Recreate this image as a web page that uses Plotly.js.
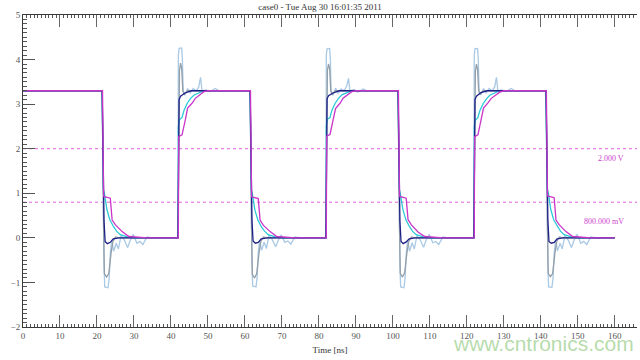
<!DOCTYPE html>
<html>
<head>
<meta charset="utf-8">
<script src="https://cdn.plot.ly/plotly-3.0.1.min.js"></script>
<style>html,body{margin:0;padding:0;background:#fff;}#chart{width:640px;height:360px;}</style>
</head>
<body>
<div id="chart"></div>
<script>
const titleText = 'case0 - Tue Aug 30 16:01:35 2011';
const xTitle = 'Time [ns]';
const thresholds = [2.0, 0.8];
const thresholdLabels = ['2.000 V', '800.000 mV'];
const watermark = 'www.cntronics.com';

// light blue (strongest ringing)
const tLight = [0,
21.4,21.9,22.1,23.0,23.3,23.6,24.0,24.5,25.2,25.8,26.5,27.4,28.3,29.0,29.8,30.8,31.6,32.4,33.5,35.0,
41.9,42.0,42.2,42.9,43.1,43.3,43.8,44.5,45.2,46.0,46.8,47.5,48.0,48.4,49.5,50.5,52.0,53.0,
61.4,61.9,62.1,63.0,63.3,63.6,64.0,64.5,65.2,65.8,66.5,67.4,68.3,69.0,69.8,70.8,71.6,72.4,73.5,75.0,
81.9,82.0,82.2,82.9,83.1,83.3,83.8,84.5,85.2,86.0,86.8,87.5,88.0,88.4,89.5,90.5,92.0,93.0,
101.4,101.9,102.1,103.0,103.3,103.6,104.0,104.5,105.2,105.8,106.5,107.4,108.3,109.0,109.8,110.8,111.6,112.4,113.5,115.0,
121.9,122.0,122.2,122.9,123.1,123.3,123.8,124.5,125.2,126.0,126.8,127.5,128.0,128.4,129.5,130.5,132.0,133.0,
141.4,141.9,142.1,143.0,143.3,143.6,144.0,144.5,145.2,145.8,146.5,147.4,148.3,149.0,149.8,150.8,151.6,152.4,153.5,155.0,
160];
const vLight = [3.3,
3.3,-0.6,-1.1,-1.12,-0.9,-0.35,-0.05,-0.3,-0.12,-0.25,0.05,-0.05,-0.22,-0.05,0.08,-0.12,-0.08,-0.15,0.02,0,
0,4.1,4.25,4.26,4.0,3.3,3.2,3.35,3.25,3.35,3.3,3.38,3.6,3.3,3.32,3.28,3.35,3.3,
3.3,-0.6,-1.08,-1.1,-0.88,-0.33,-0.06,-0.28,-0.1,-0.24,0.06,-0.04,-0.2,-0.06,0.07,-0.1,-0.07,-0.14,0.02,0,
0,4.1,4.24,4.25,4.0,3.3,3.2,3.36,3.24,3.34,3.3,3.4,3.58,3.3,3.33,3.27,3.34,3.3,
3.3,-0.6,-1.1,-1.12,-0.9,-0.36,-0.05,-0.3,-0.11,-0.25,0.05,-0.05,-0.21,-0.05,0.08,-0.11,-0.08,-0.15,0.02,0,
0,4.1,4.25,4.24,4.0,3.3,3.21,3.35,3.25,3.35,3.3,3.38,3.6,3.3,3.32,3.28,3.35,3.3,
3.3,-0.6,-1.1,-1.11,-0.9,-0.35,-0.05,-0.29,-0.12,-0.25,0.05,-0.05,-0.22,-0.05,0.08,-0.12,-0.08,-0.15,0.02,0,
0];

// gray
const tGray = [0,
21.4,21.8,22.0,22.6,23.2,23.8,24.3,25.0,26.0,
41.9,42.1,42.3,42.6,42.9,43.2,43.6,44.5,
61.4,61.8,62.0,62.6,63.2,63.8,64.3,65.0,66.0,
81.9,82.1,82.3,82.6,82.9,83.2,83.6,84.5,
101.4,101.8,102.0,102.6,103.2,103.8,104.3,105.0,106.0,
121.9,122.1,122.3,122.6,122.9,123.2,123.6,124.5,
141.4,141.8,142.0,142.6,143.2,143.8,144.3,145.0,146.0,
160];
const vGray = [3.3,
3.3,0.2,-0.8,-0.88,-0.8,-0.35,-0.08,0.02,0,
0,3.0,3.75,3.92,3.8,3.3,3.22,3.3,
3.3,0.2,-0.82,-0.9,-0.8,-0.35,-0.08,0.02,0,
0,3.0,3.76,3.9,3.8,3.3,3.22,3.3,
3.3,0.2,-0.8,-0.88,-0.78,-0.33,-0.08,0.02,0,
0,3.0,3.74,3.9,3.78,3.3,3.22,3.3,
3.3,0.2,-0.8,-0.87,-0.8,-0.35,-0.08,0.02,0,
0];

// cyan
const tCyan = [0,
21.4,21.7,22.0,22.7,23.5,24.5,25.3,26.3,28.2,30.0,
41.9,42.0,42.3,43.0,43.5,44.4,45.3,46.2,48.9,
61.4,61.7,62.0,62.7,63.5,64.5,65.3,66.3,68.2,70.0,
81.9,82.0,82.3,83.0,83.5,84.4,85.3,86.2,88.9,
101.4,101.7,102.0,102.7,103.5,104.5,105.3,106.3,108.2,110.0,
121.9,122.0,122.3,123.0,123.5,124.4,125.3,126.2,128.9,
141.4,141.7,142.0,142.7,143.5,144.5,145.3,146.3,148.2,150.0,
160];
const vCyan = [3.3,
3.3,1.1,1.0,0.63,0.4,0.25,0.15,0.07,0.02,0,
0,2.5,2.65,2.7,2.85,3.02,3.13,3.2,3.3,
3.3,1.08,1.0,0.62,0.4,0.24,0.15,0.07,0.02,0,
0,2.52,2.66,2.7,2.86,3.02,3.13,3.21,3.3,
3.3,1.1,1.0,0.64,0.41,0.25,0.15,0.07,0.02,0,
0,2.5,2.64,2.7,2.85,3.01,3.12,3.2,3.3,
3.3,1.1,1.02,0.63,0.4,0.25,0.15,0.07,0.02,0,
0];

// navy (cleanest)
const tNavy = [0,
21.4,21.9,22.2,22.8,23.6,24.4,26.0,
41.9,42.2,42.6,43.8,45.5,
61.4,61.9,62.2,62.8,63.6,64.4,66.0,
81.9,82.2,82.6,83.8,85.5,
101.4,101.9,102.2,102.8,103.6,104.4,106.0,
121.9,122.2,122.6,123.8,125.5,
141.4,141.9,142.2,142.8,143.6,144.4,146.0,
160];
const vNavy = [3.3,
3.3,0.4,-0.08,-0.13,-0.1,-0.02,0,
0,3.1,3.18,3.25,3.3,
3.3,0.4,-0.07,-0.12,-0.1,-0.02,0,
0,3.12,3.19,3.25,3.3,
3.3,0.38,-0.08,-0.13,-0.09,-0.02,0,
0,3.1,3.18,3.26,3.3,
3.3,0.4,-0.08,-0.12,-0.1,-0.02,0,
0];

// magenta
const tMag = [0,
21.5,21.8,23.6,24.1,25.0,26.8,28.6,33.6,
42.0,42.1,43.0,43.9,44.5,45.7,46.6,48.9,50.0,
61.5,61.8,63.6,64.1,65.0,66.8,68.6,73.6,
82.0,82.1,83.0,83.9,84.5,85.7,86.6,88.9,90.0,
101.5,101.8,103.6,104.1,105.0,106.8,108.6,113.6,
122.0,122.1,123.0,123.9,124.5,125.7,126.6,128.9,130.0,
141.5,141.8,143.6,144.1,145.0,146.8,148.6,153.6,
160];
const vMag = [3.3,
3.3,0.93,0.89,0.4,0.29,0.14,0.03,0,
0,2.27,2.31,2.65,2.91,3.02,3.13,3.28,3.3,
3.3,0.92,0.88,0.4,0.28,0.14,0.03,0,
0,2.28,2.32,2.66,2.9,3.02,3.14,3.28,3.3,
3.3,0.93,0.89,0.41,0.29,0.13,0.03,0,
0,2.27,2.31,2.65,2.91,3.03,3.13,3.27,3.3,
3.3,0.94,0.9,0.4,0.29,0.14,0.03,0,
0];

const series = [
  {t: tLight, v: vLight, color: '#a9c9e4'},
  {t: tGray,  v: vGray,  color: '#939ea8'},
  {t: tCyan,  v: vCyan,  color: '#2ec8d6'},
  {t: tNavy,  v: vNavy,  color: '#1d1f86'},
  {t: tMag,   v: vMag,   color: '#c935c9'}
];

const traces = series.map(s => ({
  x: s.t, y: s.v, type: 'scatter', mode: 'lines',
  line: {color: s.color, width: 1.3}, hoverinfo: 'skip'
}));

const serif = '"Liberation Serif", "Times New Roman", serif';
const axisCol = '#3a3a3a';

const layout = {
  width: 640, height: 360,
  margin: {l: 23, r: 3, t: 15, b: 33},
  paper_bgcolor: '#ffffff', plot_bgcolor: '#ffffff',
  showlegend: false,
  font: {family: serif, size: 9, color: '#444'},
  title: {text: titleText, x: 0.5, xanchor: 'center', y: 0.982, yanchor: 'middle',
          font: {family: serif, size: 9, color: '#333'}},
  xaxis: {
    range: [0, 166], showline: true, linecolor: axisCol, linewidth: 1, mirror: 'ticks',
    ticks: 'inside', ticklen: 12, tickcolor: '#666', tickwidth: 1, dtick: 10, tick0: 0,
    showgrid: false, zeroline: false,
    minor: {dtick: 1, ticklen: 3, ticks: 'inside', tickcolor: '#555', showgrid: false},
    tickfont: {family: serif, size: 9, color: '#555'},
    title: {text: xTitle, standoff: 6, font: {family: serif, size: 9, color: '#333'}}
  },
  xaxis2: {
    overlaying: 'x', anchor: 'y', side: 'bottom', range: [0, 166], mirror: 'ticks',
    ticks: 'inside', ticklen: 6, tickcolor: '#555', dtick: 5, tick0: 0,
    showticklabels: false, showgrid: false, zeroline: false, showline: false
  },
  yaxis: {
    range: [-2, 5], showline: true, linecolor: axisCol, linewidth: 1,
    ticks: 'inside', ticklen: 12, tickcolor: '#555', dtick: 1, tick0: 0,
    showgrid: false, zeroline: false,
    minor: {dtick: 0.1, ticklen: 4, ticks: 'inside', tickcolor: '#555', showgrid: false},
    tickfont: {family: serif, size: 9, color: '#555'}
  },
  yaxis2: {
    overlaying: 'y', anchor: 'x', side: 'left', range: [-2, 5],
    ticks: 'inside', ticklen: 7, tickcolor: '#555', dtick: 0.5, tick0: 0,
    showticklabels: false, showgrid: false, zeroline: false, showline: false
  },
  shapes: thresholds.map(v => ({
    type: 'line', xref: 'paper', x0: 0, x1: 1, yref: 'y', y0: v, y1: v,
    line: {color: '#e060e0', width: 1, dash: 'dot'}, layer: 'below'
  })),
  annotations: [
    {text: thresholdLabels[0], xref: 'paper', x: 0.982, xanchor: 'right', yref: 'y', y: thresholds[0],
     yshift: -10, yanchor: 'middle', showarrow: false, font: {family: serif, size: 8, color: '#cc44cc'}},
    {text: thresholdLabels[1], xref: 'paper', x: 0.982, xanchor: 'right', yref: 'y', y: thresholds[1],
     yshift: -19, yanchor: 'middle', showarrow: false, font: {family: serif, size: 8, color: '#cc44cc'}},
    {text: watermark, xref: 'paper', x: 0.847, xanchor: 'center', yref: 'paper', y: -0.052, yanchor: 'middle',
     showarrow: false, font: {family: '"Liberation Sans", Arial, sans-serif', size: 21, color: 'rgba(120,190,100,0.55)'}}
  ]
};

Plotly.newPlot('chart', traces, layout, {staticPlot: true, displayModeBar: false});
</script>
</body>
</html>
